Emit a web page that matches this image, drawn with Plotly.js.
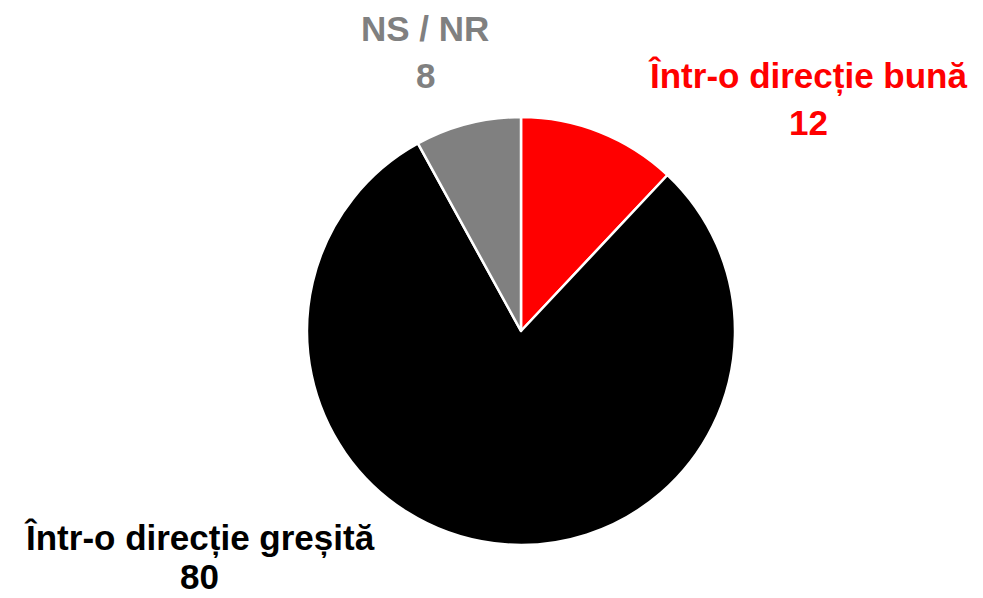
<!DOCTYPE html>
<html><head><meta charset="utf-8">
<script src="https://cdn.plot.ly/plotly-3.0.1.min.js"></script>
<style>html,body{margin:0;padding:0;background:#fff;}#c{width:983px;height:598px;}</style>
</head><body><div id="c"></div>
<script>
const categories = ["Într-o direcție bună", "Într-o direcție greșită", "NS / NR"];
const values = [12, 80, 8];
const colors = ["#ff0000", "#000000", "#808080"];

const W = 983, H = 598;
const labelPos = [ {x: 808, y1: 76, y2: 123}, {x: 199, y1: 538, y2: 576}, {x: 425, y1: 29, y2: 75} ];
const font = "Liberation Sans, Arial, sans-serif";
const annotations = [];
categories.forEach((c, i) => {
  const p = labelPos[i];
  annotations.push({text: "<b>" + c + "</b>", x: p.x / W, y: 1 - p.y1 / H, xref: "paper", yref: "paper",
    showarrow: false, xanchor: "center", yanchor: "middle", font: {family: font, size: 35, color: colors[i]}});
  annotations.push({text: "<b>" + values[i] + "</b>", x: p.x / W, y: 1 - p.y2 / H, xref: "paper", yref: "paper",
    showarrow: false, xanchor: "center", yanchor: "middle", font: {family: font, size: 35, color: colors[i]}});
});

Plotly.newPlot("c", [{
  type: "pie", labels: categories, values: values, sort: false, direction: "clockwise", rotation: 0,
  marker: {colors: colors, line: {color: "#ffffff", width: 2.5}},
  textinfo: "none", hoverinfo: "none",
  domain: {x: [307 / W, 735 / W], y: [49 / H, 485 / H]}
}], {
  width: W, height: H, margin: {l: 0, r: 0, t: 0, b: 0}, showlegend: false,
  paper_bgcolor: "#fff", annotations: annotations
}, {displayModeBar: false, staticPlot: true});
</script></body></html>
